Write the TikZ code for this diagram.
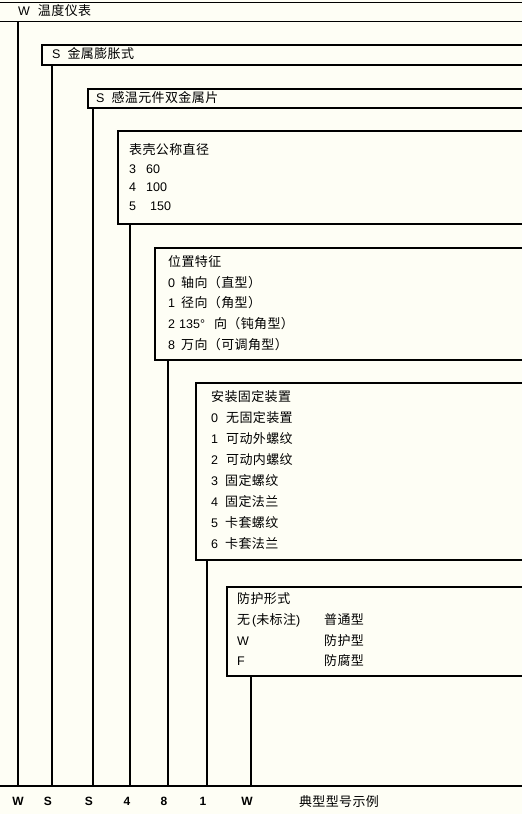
\documentclass[tikz,border=0pt]{standalone}
\usepackage{fontspec}
\setmainfont{Liberation Sans}
\newfontfamily\cjk[LetterSpace=3]{Noto Sans CJK SC}
\newcommand{\zh}[1]{{\fontsize{13}{15}\cjk #1}}
\definecolor{bgcream}{RGB}{254,254,245}
\begin{document}
\begin{tikzpicture}[x=1pt,y=-1pt,
  boxst/.style={draw=black,line width=1.8pt,rectangle,anchor=north west,inner sep=0pt,fill=bgcream},
  vline/.style={draw=black,line width=1.1pt},
  txt/.style={anchor=west,inner sep=0pt,font=\fontsize{12.5}{14}\selectfont},
  lab/.style={anchor=center,inner sep=0pt,font=\fontsize{12}{14}\selectfont\bfseries}]
\fill[bgcream] (0,0) rectangle (522,814);
\useasboundingbox (0,0) rectangle (522,814);
\clip (0,0) rectangle (522,814);
% boxes: left, top, bottom
\node[boxst,minimum width=560pt,minimum height=19pt] (b1) at (-10,1.5) {};
\node[boxst,minimum width=500pt,minimum height=20pt] (b2) at (41,44) {};
\node[boxst,minimum width=460pt,minimum height=19pt] (b3) at (87,88) {};
\node[boxst,minimum width=430pt,minimum height=93pt] (b4) at (117,130) {};
\node[boxst,minimum width=400pt,minimum height=112pt] (b5) at (154,247) {};
\node[boxst,minimum width=360pt,minimum height=177pt] (b6) at (195,382) {};
\node[boxst,minimum width=330pt,minimum height=89pt] (b7) at (226,586) {};
% texts
\node[txt] (t1) at (18,11) {W\hspace{8pt}\zh{温度仪表}};
\node[txt] (t2) at (52,54) {S\hspace{7pt}\zh{金属膨胀式}};
\node[txt] (t3) at (96,98) {S\hspace{7pt}\zh{感温元件双金属片}};
% box 4
\node[txt] (t4) at (129,150) {\zh{表壳公称直径}};
\node[txt] (t4a) at (129,169) {3};
\node[txt] (t4av) at (146,169) {60};
\node[txt] (t4b) at (129,187) {4};
\node[txt] (t4bv) at (146,187) {100};
\node[txt] (t4c) at (129,206) {5};
\node[txt] (t4cv) at (150,206) {150};
% box 5
\node[txt] (t5) at (168,262) {\zh{位置特征}};
\node[txt] (t5a) at (168,283) {0\hspace{6pt}\zh{轴向（直型）}};
\node[txt] (t5b) at (168,303) {1\hspace{6pt}\zh{径向（角型）}};
\node[txt] (t5c) at (168,324) {2\hspace{4pt}135°\hspace{9pt}\zh{向（钝角型）}};
\node[txt] (t5d) at (168,345) {8\hspace{6pt}\zh{万向（可调角型）}};
% box 6
\node[txt] (t6) at (211,397) {\zh{安装固定装置}};
\node[txt] (t6a) at (211,418) {0\hspace{8pt}\zh{无固定装置}};
\node[txt] (t6b) at (211,439) {1\hspace{8pt}\zh{可动外螺纹}};
\node[txt] (t6c) at (211,460) {2\hspace{8pt}\zh{可动内螺纹}};
\node[txt] (t6d) at (211,481) {3\hspace{7pt}\zh{固定螺纹}};
\node[txt] (t6e) at (211,502) {4\hspace{7pt}\zh{固定法兰}};
\node[txt] (t6f) at (211,523) {5\hspace{7pt}\zh{卡套螺纹}};
\node[txt] (t6g) at (211,544) {6\hspace{7pt}\zh{卡套法兰}};
% box 7
\node[txt] (t7) at (237,599) {\zh{防护形式}};
\node[txt] (t7a) at (237,620) {\zh{无}\hspace{2pt}(\zh{未标注})};
\node[txt] (t7av) at (324,620) {\zh{普通型}};
\node[txt] (t7b) at (237,641) {W};
\node[txt] (t7bv) at (324,641) {\zh{防护型}};
\node[txt] (t7c) at (237,661) {F};
\node[txt] (t7cv) at (324,661) {\zh{防腐型}};
% base line
\coordinate (bl) at (0,786);
\coordinate (br) at (522,786);
\draw[vline] (bl) -- (br);
\coordinate (v1) at (18,786);
\coordinate (v2) at (52,786);
\coordinate (v3) at (93,786);
\coordinate (v4) at (130,786);
\coordinate (v5) at (168,786);
\coordinate (v6) at (207,786);
\coordinate (v7) at (251,786);
\draw[vline] (v1 |- b1.south) -- (v1);
\draw[vline] (v2 |- b2.south) -- (v2);
\draw[vline] (v3 |- b3.south) -- (v3);
\draw[vline] (v4 |- b4.south) -- (v4);
\draw[vline] (v5 |- b5.south) -- (v5);
\draw[vline] (v6 |- b6.south) -- (v6);
\draw[vline] (v7 |- b7.south) -- (v7);
% bottom labels
\node[lab] (l1) at (18,801) {W};
\node[lab] (l2) at (48,801) {S};
\node[lab] (l3) at (89,801) {S};
\node[lab] (l4) at (127,801) {4};
\node[lab] (l5) at (164,801) {8};
\node[lab] (l6) at (203,801) {1};
\node[lab] (l7) at (247,801) {W};
\node[anchor=center,inner sep=0pt] (l8) at (339,802) {\zh{典型型号示例}};
\end{tikzpicture}
\end{document}
